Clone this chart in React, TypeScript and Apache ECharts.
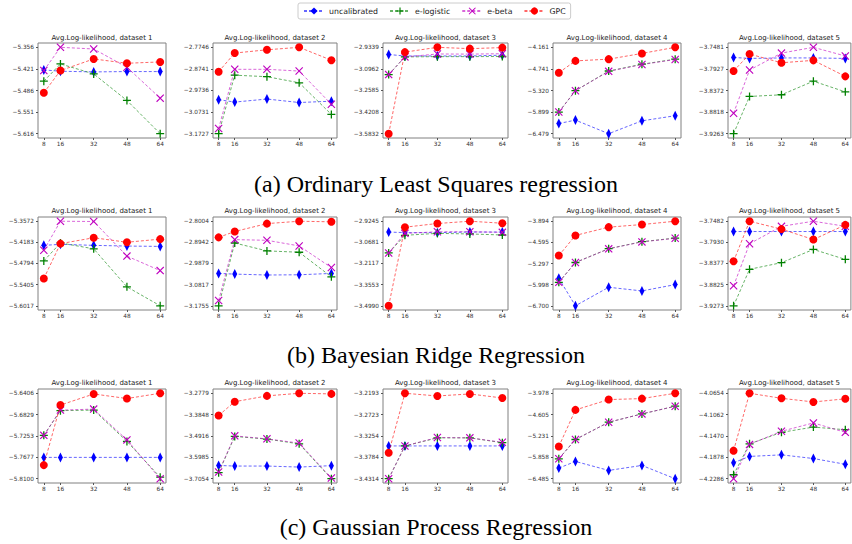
import React, { useEffect, useRef } from "react";
import * as echarts from "echarts";

// ---------- data ----------
const xSizes = [8, 16, 32, 48, 64];
const seriesNames = ["uncalibrated", "e-logistic", "e-beta", "GPC"];
const panelTitles = [
  "Avg.Log-likelihood, dataset 1",
  "Avg.Log-likelihood, dataset 2",
  "Avg.Log-likelihood, dataset 3",
  "Avg.Log-likelihood, dataset 4",
  "Avg.Log-likelihood, dataset 5",
];
const captions = [
  "(a) Ordinary Least Squares regression",
  "(b) Bayesian Ridge Regression",
  "(c) Gaussian Process Regression",
];

// (a) Ordinary Least Squares regression
const olsTicks = [
  ["−5.356", "−5.421", "−5.486", "−5.551", "−5.616"],
  ["−2.7746", "−2.8741", "−2.9736", "−3.0731", "−3.1727"],
  ["−2.9339", "−3.0962", "−3.2585", "−3.4208", "−3.5832"],
  ["−4.161", "−4.741", "−5.320", "−5.899", "−6.479"],
  ["−3.7481", "−3.7927", "−3.8372", "−3.8818", "−3.9263"],
];
const olsUncalibrated = [
  [-5.424, -5.428, -5.43, -5.429, -5.429],
  [-3.016, -3.027, -3.013, -3.029, -3.023],
  [-2.988, -2.999, -2.999, -2.999, -2.993],
  [-6.206, -6.115, -6.479, -6.134, -5.997],
  [-3.769, -3.771, -3.77, -3.77, -3.771],
];
const olsELogistic = [
  [-5.458, -5.406, -5.436, -5.516, -5.616],
  [-3.1727, -2.903, -2.91, -2.938, -3.084],
  [-3.139, -3.006, -3.004, -3.004, -3.003],
  [-5.899, -5.325, -4.797, -4.615, -4.479],
  [-3.9263, -3.8495, -3.846, -3.818, -3.84],
];
const olsEBeta = [
  [-5.426, -5.356, -5.361, -5.416, -5.509],
  [-3.149, -2.876, -2.876, -2.884, -3.037],
  [-3.139, -3.006, -2.984, -2.985, -2.982],
  [-5.899, -5.325, -4.806, -4.624, -4.488],
  [-3.884, -3.795, -3.76, -3.7481, -3.766],
];
const olsGPC = [
  [-5.493, -5.426, -5.391, -5.404, -5.4],
  [-2.887, -2.801, -2.786, -2.7746, -2.834],
  [-3.5832, -2.97, -2.9339, -2.944, -2.936],
  [-4.843, -4.525, -4.479, -4.325, -4.161],
  [-3.797, -3.762, -3.78, -3.775, -3.808],
];

// (b) Bayesian Ridge Regression
const ridgeTicks = [
  ["−5.3572", "−5.4183", "−5.4794", "−5.5405", "−5.6017"],
  ["−2.8004", "−2.8942", "−2.9879", "−3.0817", "−3.1755"],
  ["−2.9245", "−3.0681", "−3.2117", "−3.3553", "−3.4990"],
  ["−3.894", "−4.595", "−5.297", "−5.998", "−6.700"],
  ["−3.7482", "−3.7930", "−3.8377", "−3.8825", "−3.9273"],
];
const ridgeUncalibrated = [
  [-5.427, -5.424, -5.427, -5.429, -5.43],
  [-3.032, -3.035, -3.039, -3.038, -3.032],
  [-2.998, -3.002, -3.002, -2.998, -2.998],
  [-5.79, -6.7, -6.086, -6.207, -5.998],
  [-3.77, -3.77, -3.77, -3.77, -3.77],
];
const ridgeELogistic = [
  [-5.472, -5.42, -5.437, -5.547, -5.6017],
  [-3.1755, -2.897, -2.932, -2.938, -3.047],
  [-3.14, -3.02, -3.007, -3.011, -3.018],
  [-5.922, -5.264, -4.804, -4.573, -4.453],
  [-3.9273, -3.85, -3.836, -3.808, -3.829],
];
const ridgeEBeta = [
  [-5.441, -5.3572, -5.358, -5.458, -5.5],
  [-3.152, -2.882, -2.885, -2.91, -3.006],
  [-3.14, -3.007, -2.996, -2.996, -3.0],
  [-5.922, -5.264, -4.81, -4.58, -4.46],
  [-3.885, -3.796, -3.759, -3.7482, -3.759],
];
const ridgeGPC = [
  [-5.523, -5.422, -5.405, -5.418, -5.409],
  [-2.872, -2.846, -2.811, -2.8004, -2.803],
  [-3.499, -2.965, -2.94, -2.9245, -2.938],
  [-5.034, -4.365, -4.091, -4.004, -3.894],
  [-3.833, -3.7482, -3.765, -3.787, -3.756],
];

// (c) Gaussian Process Regression
const gprTicks = [
  ["−5.6406", "−5.6829", "−5.7253", "−5.7677", "−5.8100"],
  ["−3.2779", "−3.3848", "−3.4916", "−3.5985", "−3.7054"],
  ["−3.2193", "−3.2723", "−3.3254", "−3.3784", "−3.4314"],
  ["−3.978", "−4.605", "−5.231", "−5.858", "−6.485"],
  ["−4.0654", "−4.1062", "−4.1470", "−4.1878", "−4.2286"],
];
const gprUncalibrated = [
  [-5.7677, -5.7677, -5.7677, -5.7677, -5.7677],
  [-3.639, -3.642, -3.642, -3.647, -3.64],
  [-3.35, -3.35, -3.35, -3.35, -3.35],
  [-6.173, -5.978, -6.241, -6.095, -6.485],
  [-4.198, -4.186, -4.183, -4.19, -4.201],
];
const gprELogistic = [
  [-5.724, -5.675, -5.674, -5.736, -5.807],
  [-3.675, -3.494, -3.507, -3.531, -3.7054],
  [-3.4314, -3.35, -3.33, -3.33, -3.342],
  [-5.9, -5.334, -4.827, -4.583, -4.358],
  [-4.221, -4.162, -4.14, -4.13, -4.135],
];
const gprEBeta = [
  [-5.724, -5.674, -5.672, -5.733, -5.81],
  [-3.672, -3.491, -3.506, -3.527, -3.702],
  [-3.4314, -3.35, -3.329, -3.33, -3.341],
  [-5.9, -5.334, -4.827, -4.583, -4.358],
  [-4.2286, -4.163, -4.138, -4.122, -4.14],
];
const gprGPC = [
  [-5.783, -5.664, -5.642, -5.651, -5.6406],
  [-3.389, -3.32, -3.291, -3.2779, -3.281],
  [-3.367, -3.2193, -3.226, -3.221, -3.231],
  [-5.539, -4.466, -4.163, -4.134, -3.978],
  [-4.175, -4.0654, -4.075, -4.082, -4.076],
];

const rowTicks = [olsTicks, ridgeTicks, gprTicks];
const rowValues = [
  [olsUncalibrated, olsELogistic, olsEBeta, olsGPC],
  [ridgeUncalibrated, ridgeELogistic, ridgeEBeta, ridgeGPC],
  [gprUncalibrated, gprELogistic, gprEBeta, gprGPC],
];

// ---------- layout / style ----------
const COL_LEFT = [38, 213, 383, 553, 728];
const COL_WIDTH = [128, 124, 125, 128, 123];
const ROW_TOP = [43, 217, 389];
const ROW_HEIGHT = [95, 93, 94];
const TITLE_Y = [38, 211, 383];
const CAPTION_Y = [184, 355, 527];

const COLORS = ["#0000ff", "#008000", "#bf00bf", "#ff0000"];
const PLUS = "path://M4.2,0H5.8V4.2H10V5.8H5.8V10H4.2V5.8H0V4.2H4.2Z";
const CROSS = "path://M0,1L1,0L5,4L9,0L10,1L6,5L10,9L9,10L5,6L1,10L0,9L4,5Z";
const SYMBOLS = ["diamond", PLUS, CROSS, "circle"];
const SIZES: any[] = [[5, 10], 8, 8, 8];

const parseTick = (s: string) => parseFloat(s.replace("−", "-"));

function buildOption() {
  const grid: any[] = [];
  const xAxis: any[] = [];
  const yAxis: any[] = [];
  const series: any[] = [];
  const title: any[] = [];

  rowTicks.forEach((ticks, r) => {
    for (let c = 0; c < 5; c++) {
      const idx = r * 5 + c;
      const left = COL_LEFT[c];
      const width = COL_WIDTH[c];
      grid.push({
        left,
        top: ROW_TOP[r],
        width,
        height: ROW_HEIGHT[r],
        show: true,
        borderColor: "#808080",
        borderWidth: 1,
        backgroundColor: "transparent",
      });
      const labels = ticks[c];
      const tv = labels.map(parseTick);
      const hi = tv[0];
      const lo = tv[tv.length - 1];
      const span = hi - lo;
      yAxis.push({
        type: "value",
        gridIndex: idx,
        min: lo - 0.05 * span,
        max: hi + 0.05 * span,
        splitLine: { show: false },
        axisLine: { show: false },
        axisTick: { show: true, length: 2, lineStyle: { color: "#555" }, customValues: tv },
        axisLabel: {
          customValues: tv,
          formatter: (v: number) => {
            const i = tv.findIndex((t) => Math.abs(t - v) < 1e-9);
            return i >= 0 ? labels[i] : "";
          },
          fontSize: 5.8,
          fontFamily: "DejaVu Sans",
          color: "#333",
          margin: 4,
        },
      });
      xAxis.push({
        type: "value",
        gridIndex: idx,
        min: 5.2,
        max: 66.8,
        splitLine: { show: false },
        axisLine: { show: false },
        axisTick: { show: true, length: 2, lineStyle: { color: "#555" }, customValues: xSizes },
        axisLabel: {
          customValues: xSizes,
          fontSize: 5.8,
          fontFamily: "DejaVu Sans",
          color: "#333",
          margin: 3,
        },
      });
      title.push({
        text: panelTitles[c],
        left: left + width / 2,
        top: TITLE_Y[r] - 4,
        textAlign: "center",
        padding: 0,
        itemGap: 0,
        textStyle: {
          fontSize: 7,
          lineHeight: 8,
          fontWeight: "normal",
          fontFamily: "DejaVu Sans",
          color: "#222",
        },
      });
      rowValues[r].forEach((vals, s) => {
        series.push({
          name: seriesNames[s],
          type: "line",
          xAxisIndex: idx,
          yAxisIndex: idx,
          data: xSizes.map((x, j) => [x, vals[c][j]]),
          symbol: SYMBOLS[s],
          symbolSize: SIZES[s],
          showAllSymbol: true,
          lineStyle: { color: COLORS[s], width: 1, type: [3, 2], opacity: 0.6 },
          itemStyle: { color: COLORS[s], opacity: 1 },
          z: 2 + s,
          silent: true,
          emphasis: { disabled: true },
        });
      });
    }
  });

  captions.forEach((text, r) => {
    title.push({
      text,
      left: 436,
      top: CAPTION_Y[r] - 12,
      textAlign: "center",
      padding: 0,
      itemGap: 0,
      textStyle: {
        fontSize: 24,
        lineHeight: 24,
        fontWeight: "normal",
        fontFamily: "Liberation Serif",
        color: "#000",
      },
    });
  });

  return {
    animation: false,
    backgroundColor: "#fff",
    title,
    legend: {
      data: seriesNames,
      left: 298,
      top: 3,
      orient: "horizontal",
      itemWidth: 20,
      itemHeight: 9,
      itemGap: 11,
      padding: [4, 5],
      borderColor: "#cccccc",
      borderWidth: 1,
      borderRadius: 2,
      backgroundColor: "#fff",
      selectedMode: false,
      textStyle: { fontSize: 7.8, fontFamily: "DejaVu Sans", color: "#222" },
    },
    grid,
    xAxis,
    yAxis,
    series,
  };
}

export default function App() {
  const ref = useRef<HTMLDivElement>(null);
  useEffect(() => {
    if (!ref.current) return;
    const chart = echarts.init(ref.current, undefined, { renderer: "svg" });
    chart.setOption(buildOption() as any);
    return () => chart.dispose();
  }, []);
  return (
    <div
      ref={ref}
      style={{ position: "fixed", left: 0, top: 0, width: 852, height: 544, background: "#fff" }}
    />
  );
}
